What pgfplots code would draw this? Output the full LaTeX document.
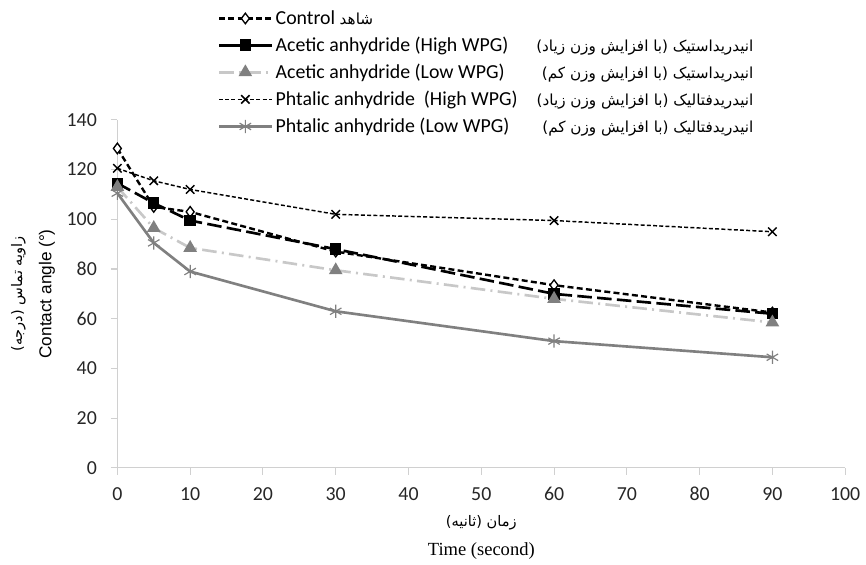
\documentclass[border={5pt 0pt 1pt 4pt}]{standalone}
\usepackage{pgfplots}
\pgfplotsset{compat=1.18}
\usepackage{fontspec}
\setmainfont{Carlito}
\newfontfamily\arabicfont[Script=Arabic]{DejaVu Sans}
\newfontfamily\serifen{Liberation Serif}
\newfontfamily\sansen{Liberation Sans}
\TeXXeTstate=1
\usetikzlibrary{plotmarks}
\definecolor{axgray}{HTML}{D0D0D0}
\definecolor{mgray}{HTML}{808080}
\definecolor{lgray}{HTML}{C8C8C8}
\newcommand{\fasize}{\arabicfont\fontsize{11.5}{13}\selectfont}
\newcommand{\legrow}[2]{\makebox[361pt][l]{#1\hfill{\fasize #2}}}
\begin{document}
\begin{tikzpicture}
\begin{axis}[
  scale only axis,
  width=550pt, height=263pt,
  xmin=0, xmax=100, ymin=0, ymax=140,
  xtick={0,10,...,100}, ytick={0,20,...,140},
  axis x line*=bottom, axis y line*=left,
  axis line style={axgray, line width=0.8pt},
  tick style={axgray, line width=0.8pt},
  tick align=outside, major tick length=5pt,
  tick label style={font=\fontsize{15}{17}\selectfont, text=black!85},
  /pgf/number format/assume math mode=true,
  xticklabel style={yshift=-6pt},
  yticklabel style={xshift=-7pt},
  xlabel={{\arabicfont\fontsize{11}{13}\selectfont\beginR زمان (ثانیه)\endR}\\[9pt]{\serifen\fontsize{14}{16}\selectfont Time (second)}},
  xlabel style={align=center, yshift=-4pt},
  ylabel={{\arabicfont\fontsize{11}{13}\selectfont\beginR زاویه تماس (درجه)\endR}\\[9pt]{\sansen\fontsize{13}{15}\selectfont Contact angle (°)}},
  ylabel style={align=center, yshift=2pt},
  legend style={at={(0.132,1.33)}, anchor=north west, draw=none, fill=none,
    font=\fontsize{15}{17}\selectfont, row sep=4pt, cells={anchor=west}},
  legend cell align=left,
  legend image code/.code={\draw[mark repeat=2,mark phase=2,#1] plot coordinates {(0cm,0cm) (0.7cm,0cm) (1.4cm,0cm)};},
]
\addplot[black, line width=1.8pt, dash pattern=on 4.5pt off 2.5pt, mark=diamond*, mark size=4pt,
  mark options={solid, fill=white, line width=1pt}]
  coordinates {(0,128.5) (5,105) (10,103) (30,87) (60,73.5) (90,62.5)};
\addlegendentry{Control {\fasize\beginR شاهد\endR}}
\addplot[black, line width=2pt, dash pattern=on 11pt off 4pt, mark=square*, mark size=3.3pt,
  mark options={solid}, legend image post style={solid}]
  coordinates {(0,114.5) (5,106.5) (10,99.5) (30,88) (60,70) (90,62)};
\addlegendentry{\legrow{Acetic anhydride (High WPG)}{\beginR انیدریداستیک (با افزایش وزن زیاد)\endR}}
\addplot[lgray, line width=2pt, dash pattern=on 11pt off 4pt on 1.5pt off 4pt, mark=triangle*, mark size=4pt,
  mark options={solid, fill=mgray, draw=mgray}]
  coordinates {(0,113) (5,96.5) (10,88.5) (30,79.5) (60,68) (90,58.5)};
\addlegendentry{\legrow{Acetic anhydride (Low WPG)}{\beginR انیدریداستیک (با افزایش وزن کم)\endR}}
\addplot[black, line width=1.1pt, dash pattern=on 3pt off 1.7pt, mark=x, mark size=4.5pt,
  mark options={solid, line width=1.1pt}]
  coordinates {(0,120.5) (5,115.5) (10,112) (30,102) (60,99.5) (90,95)};
\addlegendentry{\legrow{Phtalic anhydride\ \ (High WPG)}{\beginR انیدریدفتالیک (با افزایش وزن زیاد)\endR}}
\addplot[mgray, line width=2pt, mark=asterisk, mark size=5pt, mark options={solid, line width=0.9pt}]
  coordinates {(0,110.5) (5,90.5) (10,79) (30,63) (60,51) (90,44.5)};
\addlegendentry{\legrow{Phtalic anhydride (Low WPG)}{\beginR انیدریدفتالیک (با افزایش وزن کم)\endR}}
\end{axis}
\end{tikzpicture}
\end{document}
